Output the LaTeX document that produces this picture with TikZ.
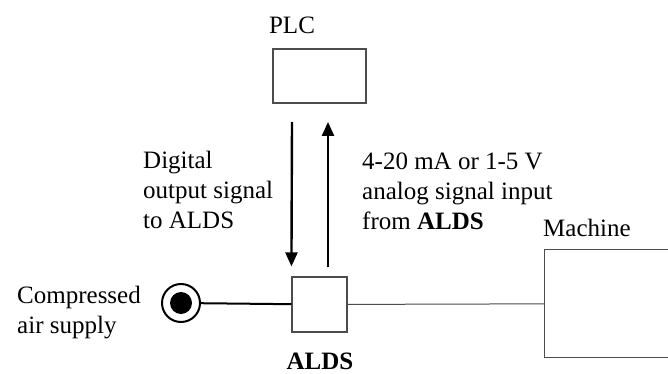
\documentclass[tikz,border=0pt]{standalone}
\usepackage{fontspec}
\setmainfont{Liberation Serif}
\usetikzlibrary{arrows.meta,positioning}
\tikzset{
  unit/.style={x=1pt,y=-1pt},
  lbl/.style={inner sep=0pt,font=\fontsize{25}{30}\selectfont},
  txt/.style={lbl,align=left,anchor=west},
  box/.style={draw=black!70,line width=1.2pt,fill=white,inner sep=0pt},
  signal/.style={line width=2.4pt,-{Triangle[length=14pt,width=12pt]}},
  outlet/.style={draw,circle,line width=2pt,minimum size=38pt,inner sep=0pt},
  plug/.style={circle,fill=black,minimum size=22pt,inner sep=0pt}
}
\begin{document}
\begin{tikzpicture}[unit]
    \clip (0,0) rectangle (668,374);
    \fill[white] (0,0) rectangle (668,374);
    \node[box,minimum width=93pt,minimum height=54pt] (plc) at (319.5,76) {};
    \node[lbl] (plclbl) at (292,25) {PLC};
    \node[box,minimum width=55pt,minimum height=55pt] (alds) at (319.5,304.5) {};
    \node[lbl,font=\fontsize{25}{30}\selectfont\bfseries] (aldslbl) at (320,361) {ALDS};
    \node[box,minimum width=160pt,minimum height=108pt,anchor=north west] (machine) at (544,249) {};
    \node[lbl,anchor=west] (machlbl) at (543,228) {Machine};
    \node[outlet] (air) at (181,303) {};
    \node[plug] (airdot) at (air) {};
    \node[txt] (airlbl) at (17,313) {Compressed\\air supply};
    \draw[line width=2pt] (air) -- (alds);
    \draw[black!70,line width=1pt] (alds) -- (machine);
    \coordinate (dtop) at (292,122);
    \coordinate (utop) at (328,122);
    \draw[signal,shorten >=10pt] (dtop) -- (alds.north west);
    \draw[signal,shorten <=9pt] (utop |- alds.north) -- (utop);
    \node[txt] (dlbl) at (143,190) {Digital\\output signal\\to ALDS};
    \node[txt] (ulbl) at (362,191) {4-20 mA or 1-5 V\\analog signal input\\from \textbf{ALDS}};
\end{tikzpicture}
\end{document}
